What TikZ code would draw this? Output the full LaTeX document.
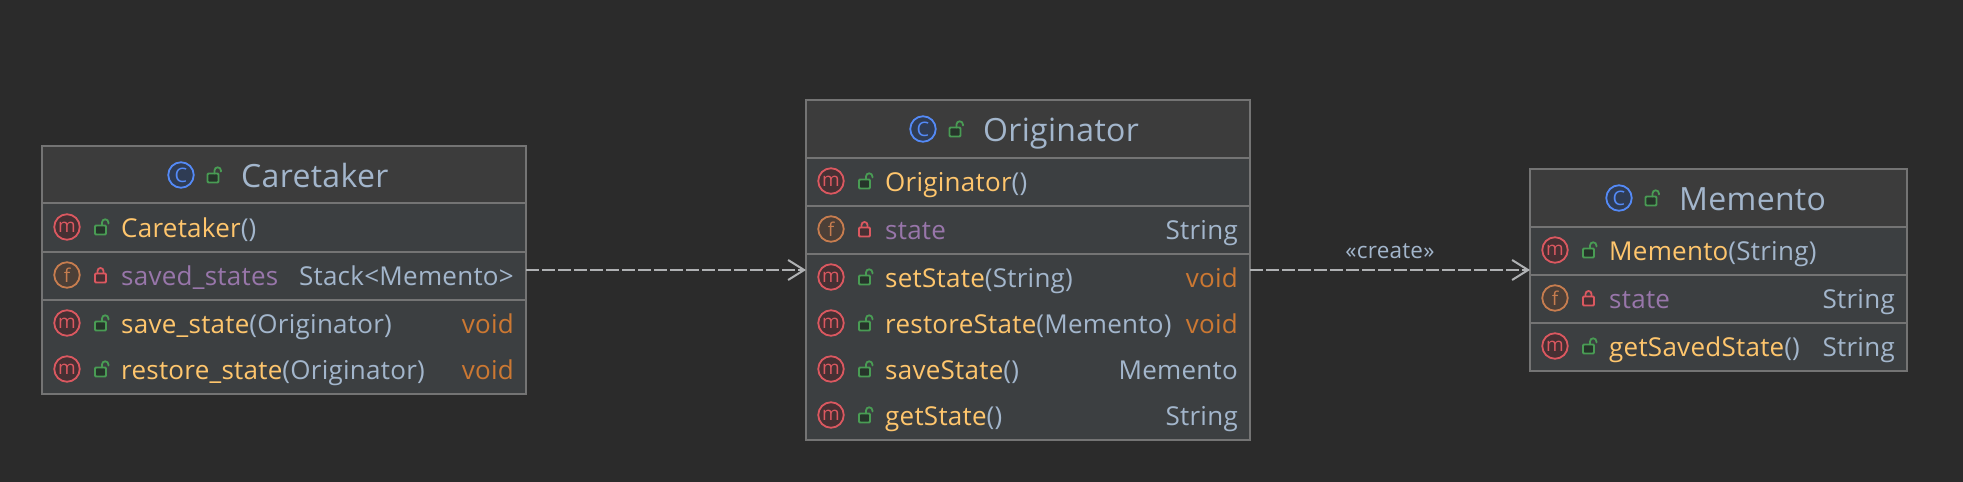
\documentclass[tikz,border=0pt]{standalone}
\usepackage{fontspec}
\setmainfont[LetterSpace=1]{Open Sans}
\usetikzlibrary{positioning,calc,arrows.meta}
\definecolor{canvasgray}{HTML}{2B2B2B}
\definecolor{headgray}{HTML}{3C3C3C}
\definecolor{rowgray}{HTML}{3C3F41}
\definecolor{edgegray}{HTML}{747474}
\definecolor{arrowgray}{HTML}{AFB1B3}
\definecolor{typeblue}{HTML}{A3B6CC}
\definecolor{methodgold}{HTML}{FFC66D}
\definecolor{fieldpurple}{HTML}{9876AA}
\definecolor{voidorange}{HTML}{CC7832}
\definecolor{iconred}{HTML}{DB5860}
\definecolor{iconbrown}{HTML}{C77D4F}
\definecolor{iconblue}{HTML}{548AF7}
\definecolor{lockgreen}{HTML}{499C54}

\tikzset{
    classbox/.style={rectangle, draw=edgegray, line width=2pt, fill=rowgray, outer sep=0pt, inner sep=0pt},
    splitline/.style={edgegray, line width=2pt},
    depends/.style={draw=arrowgray, line width=2pt, dash pattern=on 12.7pt off 3.3pt, -{Straight Barb[length=16pt,width=20pt]}},
    icon/.style={circle, line width=1.8pt, minimum size=25.5pt, inner sep=0pt, font=\fontsize{19}{19}\selectfont},
    iconm/.style={icon, draw=iconred, fill=iconred!25!rowgray!70!black, text=iconred},
    iconf/.style={icon, draw=iconbrown, fill=iconbrown!25!rowgray!80!black, text=iconbrown},
    iconc/.style={icon, draw=iconblue, fill=iconblue!30!rowgray!70!black, text=iconblue, font=\fontsize{20}{20}\selectfont},
    rowtext/.style={anchor=base west, inner sep=0pt, font=\fontsize{26}{30}\selectfont},
    rowright/.style={anchor=base east, inner sep=0pt, font=\fontsize{26}{30}\selectfont},
    titletext/.style={anchor=base west, inner sep=0pt, text=typeblue, font=\fontsize{32}{36}\selectfont},
    pics/lockopen/.style={code={
        \draw[lockgreen, line width=1.8pt, rounded corners=1pt, fill=lockgreen!25!rowgray!60!black] (-5.5,-4.5) rectangle (5.5,4.5);
        \draw[lockgreen, line width=1.8pt, line cap=round] (1.5,-4.5) -- (1.5,-7.5) arc[start angle=180, end angle=0, radius=3.2pt] -- (7.9,-6.5);
    }},
    pics/lockshut/.style={code={
        \draw[iconred, line width=1.8pt, rounded corners=1pt, fill=iconred!25!rowgray!70!black] (-5.5,-4.5) rectangle (5.5,4.5);
        \draw[iconred, line width=1.8pt] (-3,-4.5) -- (-3,-7) arc[start angle=180, end angle=0, radius=3pt] -- (3,-4.5);
    }},
}

\newcommand{\mname}[1]{\textcolor{methodgold}{#1}}
\newcommand{\fname}[1]{\textcolor{fieldpurple}{#1}}
\newcommand{\tname}[1]{\textcolor{typeblue}{#1}}
\newcommand{\vname}[1]{\textcolor{voidorange}{#1}}

% title row: id, box, x of the icon, text
\newcommand{\boxtitle}[4]{
    \node[iconc] (#1icon) at ($(#2.north west)+(#3,29)$) {C};
    \pic at ($(#1icon)+(32,3)$) {lockopen};
    \node[titletext] (#1title) at ($(#1icon)+(60,12)$) {#4};
}
% left part of a row: id, box, y, icon letter, lock, text
\newcommand{\member}[6]{
    \node[icon#4] (#1icon) at ($(#2.north west)+(25,#3)$) {#4};
    \pic at ($(#1icon)+(33.5,3)$) {#5};
    \node[rowtext] (#1text) at ($(#2.north west)+(79,#3+10)$) {#6};
}
% right part of a row: id, box, y, text
\newcommand{\membertype}[4]{
    \node[rowright] (#1type) at ($(#2.north east)+(-12,#3+10)$) {#4};
}
\newcommand{\splitrow}[2]{
    \draw[splitline] ($(#1.north west)+(0,#2)$) -- ($(#1.north east)+(0,#2)$);
}
\newcommand{\headfill}[1]{
    \fill[headgray] ($(#1.north west)+(1,1)$) rectangle ($(#1.north east)+(-1,57)$);
}

\begin{document}
\begin{tikzpicture}[x=1pt, y=-1pt]
    \useasboundingbox[fill=canvasgray] (0,0) rectangle (1963,482);

    \node[classbox, minimum width=444pt, minimum height=340pt] (originator) at (1028,270) {};
    \node[classbox, minimum width=484pt, minimum height=248pt, left=280pt of originator] (caretaker) {};
    \node[classbox, minimum width=377pt, minimum height=202pt, right=280pt of originator] (memento) {};

    \headfill{caretaker}
    \headfill{originator}
    \headfill{memento}

    % Caretaker
    \splitrow{caretaker}{57}
    \splitrow{caretaker}{106}
    \splitrow{caretaker}{154}
    \boxtitle{ct}{caretaker}{139}{Caretaker}
    \member{ctnew}{caretaker}{81}{m}{lockopen}{\mname{Caretaker}\tname{()}}
    \member{ctsaved}{caretaker}{129}{f}{lockshut}{\fname{saved\_states}}
    \membertype{ctsaved}{caretaker}{129}{\tname{Stack<Memento>}}
    \member{ctsave}{caretaker}{177}{m}{lockopen}{\mname{save\_state}\tname{(Originator)}}
    \membertype{ctsave}{caretaker}{177}{\vname{void}}
    \member{ctrestore}{caretaker}{223}{m}{lockopen}{\mname{restore\_state}\tname{(Originator)}}
    \membertype{ctrestore}{caretaker}{223}{\vname{void}}

    % Originator
    \splitrow{originator}{58}
    \splitrow{originator}{106}
    \splitrow{originator}{154}
    \boxtitle{or}{originator}{117}{Originator}
    \member{ornew}{originator}{81}{m}{lockopen}{\mname{Originator}\tname{()}}
    \member{orstate}{originator}{129}{f}{lockshut}{\fname{state}}
    \membertype{orstate}{originator}{129}{\tname{String}}
    \member{orset}{originator}{177}{m}{lockopen}{\mname{setState}\tname{(String)}}
    \membertype{orset}{originator}{177}{\vname{void}}
    \member{orrestore}{originator}{223}{m}{lockopen}{\mname{restoreState}\tname{(Memento)}}
    \membertype{orrestore}{originator}{223}{\vname{void}}
    \member{orsave}{originator}{269}{m}{lockopen}{\mname{saveState}\tname{()}}
    \membertype{orsave}{originator}{269}{\tname{Memento}}
    \member{orget}{originator}{315}{m}{lockopen}{\mname{getState}\tname{()}}
    \membertype{orget}{originator}{315}{\tname{String}}

    % Memento
    \splitrow{memento}{58}
    \splitrow{memento}{106}
    \splitrow{memento}{154}
    \boxtitle{me}{memento}{89}{Memento}
    \member{menew}{memento}{81}{m}{lockopen}{\mname{Memento}\tname{(String)}}
    \member{mestate}{memento}{129}{f}{lockshut}{\fname{state}}
    \membertype{mestate}{memento}{129}{\tname{String}}
    \member{meget}{memento}{177}{m}{lockopen}{\mname{getSavedState}\tname{()}}
    \membertype{meget}{memento}{177}{\tname{String}}

    \draw[depends] (caretaker.east) -- (originator.west);
    \draw[depends] (originator.east) -- node[above=10pt, inner sep=0pt, text=typeblue, font=\fontsize{22.5}{26}\selectfont] (createlabel) {«create»} (memento.west);
\end{tikzpicture}
\end{document}
